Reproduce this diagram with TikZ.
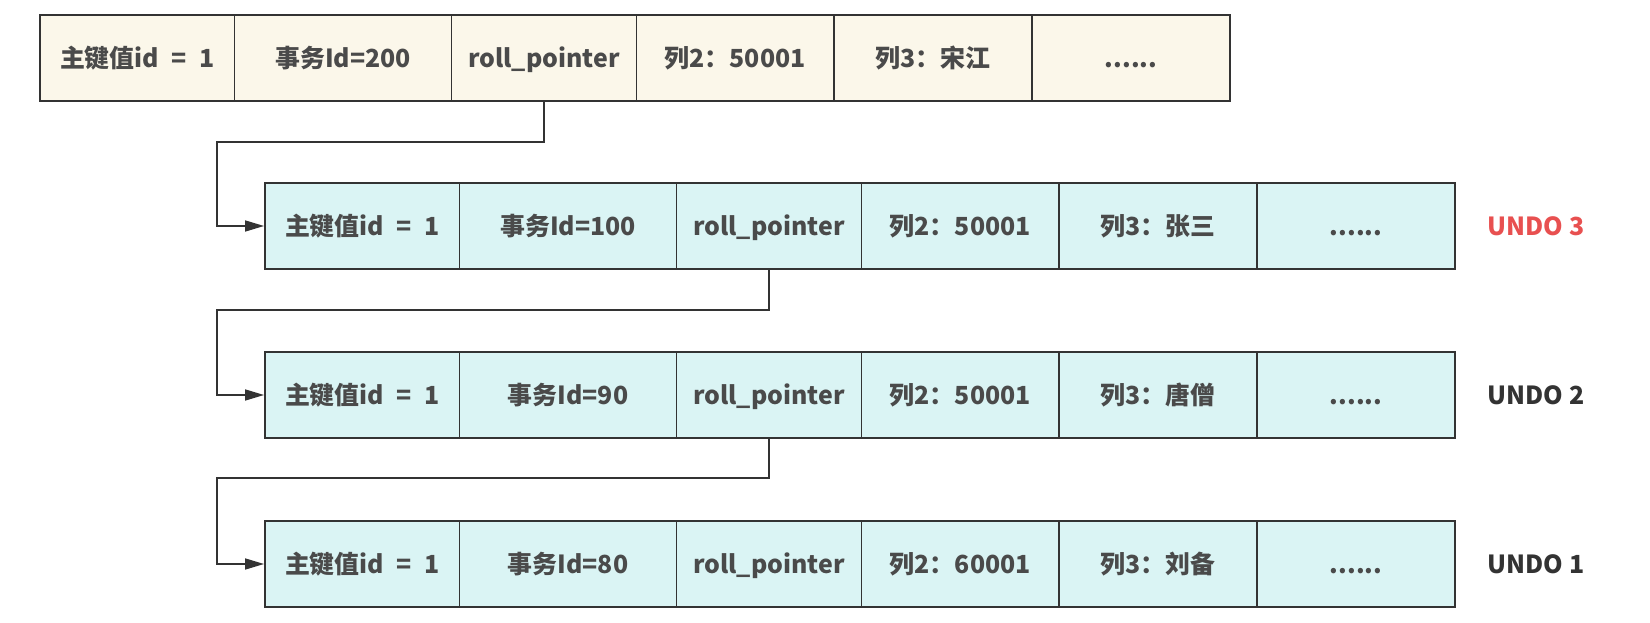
\documentclass[tikz,border=0pt]{standalone}
\usepackage{fontspec}
\setmainfont{Noto Sans CJK SC}
\usetikzlibrary{arrows.meta}
\definecolor{rowcream}{HTML}{FBF7EA}
\definecolor{rowcyan}{HTML}{DAF4F4}
\definecolor{celltext}{HTML}{4A4A4A}
\definecolor{undored}{HTML}{E85050}
\definecolor{edgegray}{HTML}{333333}
\tikzset{
  cell/.style={draw=edgegray, line width=1.9bp, inner sep=0pt, minimum height=86bp,
    text height=25bp, text depth=6bp,
    text=celltext, font=\fontsize{25}{30}\selectfont\bfseries},
  cellA/.style={cell, minimum width=194.5bp},
  cellB/.style={cell, minimum width=217bp},
  cellC/.style={cell, minimum width=185bp},
  cellD/.style={cell, minimum width=197.5bp},
  cellE/.style={cell, minimum width=198bp},
  cellF/.style={cell, minimum width=198bp},
  undolabel/.style={anchor=west, font=\fontsize{25}{30}\selectfont\bfseries},
  link/.style={->, draw=edgegray, line width=1.6bp},
}
\newcommand{\pkval}{主键值id\enspace=\enspace1}
\begin{document}
\begin{tikzpicture}[>={Triangle[length=19bp,width=11bp]}, line join=miter]
\useasboundingbox (0bp,0bp) rectangle (1650bp,623bp);
%%
  % Row: current record
  \node [cellA, fill=rowcream] (r1c1) at (137.25bp,565bp) {\pkval};
  \node [cellB, fill=rowcream] (r1c2) at (343bp,565bp) {事务Id=200};
  \node [cellC, fill=rowcream] (r1c3) at (544bp,565bp) {roll\_pointer};
  \node [cellD, fill=rowcream] (r1c4) at (735.25bp,565bp) {列2：50001};
  \node [cellE, fill=rowcream] (r1c5) at (933bp,565bp) {列3：宋江};
  \node [cellF, fill=rowcream] (r1c6) at (1131bp,565bp) {......};
  % Row: UNDO 3
  \node [cellA, fill=rowcyan] (r2c1) at (362.25bp,397bp) {\pkval};
  \node [cellB, fill=rowcyan] (r2c2) at (568bp,397bp) {事务Id=100};
  \node [cellC, fill=rowcyan] (r2c3) at (769bp,397bp) {roll\_pointer};
  \node [cellD, fill=rowcyan] (r2c4) at (960.25bp,397bp) {列2：50001};
  \node [cellE, fill=rowcyan] (r2c5) at (1158bp,397bp) {列3：张三};
  \node [cellF, fill=rowcyan] (r2c6) at (1356bp,397bp) {......};
  \node [undolabel, text=undored] (undo3) at (1484bp,397bp) {UNDO 3};
  % Row: UNDO 2
  \node [cellA, fill=rowcyan] (r3c1) at (362.25bp,228bp) {\pkval};
  \node [cellB, fill=rowcyan] (r3c2) at (568bp,228bp) {事务Id=90};
  \node [cellC, fill=rowcyan] (r3c3) at (769bp,228bp) {roll\_pointer};
  \node [cellD, fill=rowcyan] (r3c4) at (960.25bp,228bp) {列2：50001};
  \node [cellE, fill=rowcyan] (r3c5) at (1158bp,228bp) {列3：唐僧};
  \node [cellF, fill=rowcyan] (r3c6) at (1356bp,228bp) {......};
  \node [undolabel, text=edgegray] (undo2) at (1484bp,228bp) {UNDO 2};
  % Row: UNDO 1
  \node [cellA, fill=rowcyan] (r4c1) at (362.25bp,59bp) {\pkval};
  \node [cellB, fill=rowcyan] (r4c2) at (568bp,59bp) {事务Id=80};
  \node [cellC, fill=rowcyan] (r4c3) at (769bp,59bp) {roll\_pointer};
  \node [cellD, fill=rowcyan] (r4c4) at (960.25bp,59bp) {列2：60001};
  \node [cellE, fill=rowcyan] (r4c5) at (1158bp,59bp) {列3：刘备};
  \node [cellF, fill=rowcyan] (r4c6) at (1356bp,59bp) {......};
  \node [undolabel, text=edgegray] (undo1) at (1484bp,59bp) {UNDO 1};
%%
  % Edge: r1c3 -> r2c1
  \coordinate (bend1) at (217bp,481bp);
  \draw [link] (r1c3.south) |- (bend1) |- (r2c1.west);
  % Edge: r2c3 -> r3c1
  \coordinate (bend2) at (217bp,313bp);
  \draw [link] (r2c3.south) |- (bend2) |- (r3c1.west);
  % Edge: r3c3 -> r4c1
  \coordinate (bend3) at (217bp,145bp);
  \draw [link] (r3c3.south) |- (bend3) |- (r4c1.west);
%
\end{tikzpicture}
\end{document}
